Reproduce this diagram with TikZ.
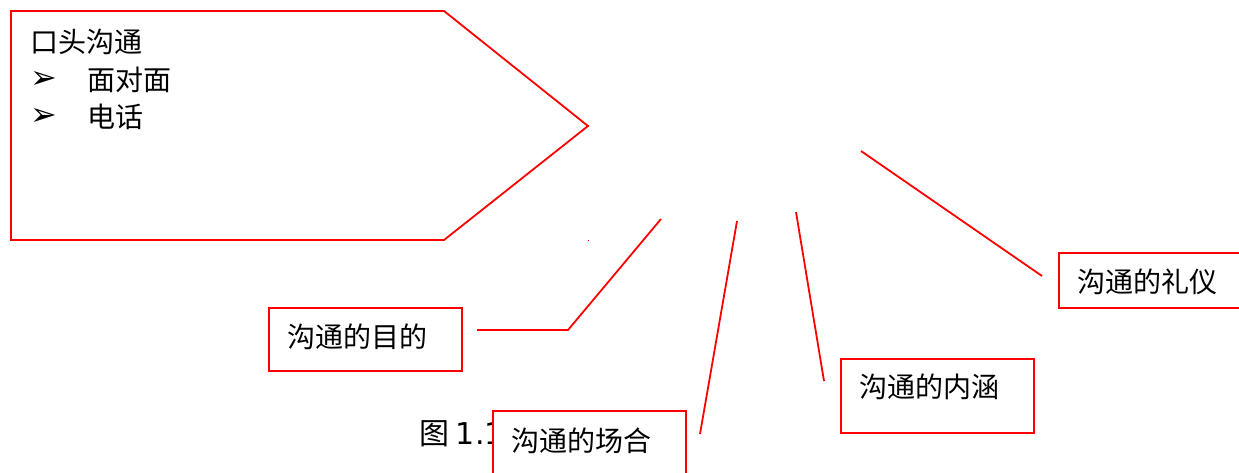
\documentclass[tikz,border=0pt]{standalone}
\usepackage{fontspec}
\setmainfont{Noto Sans CJK SC}
\newfontfamily\symfont{DejaVu Sans}
\begin{document}
\begin{tikzpicture}[x=1pt,y=-1pt,
  redline/.style={draw=red, line width=1.8pt},
  box/.style={redline, fill=white, rectangle, inner sep=0pt, anchor=north west},
  lbl/.style={anchor=west, inner sep=0pt, font=\fontsize{28}{32}\selectfont},
  bul/.style={anchor=west, inner sep=0pt, font=\symfont\fontsize{32}{36}\selectfont}]
\useasboundingbox (0,0) rectangle (1239,472);
\clip (0,0) rectangle (1239,472);
% pentagon
\draw[redline] (11,11) -- (444,11) -- (588,126) -- (444,240) -- (11,240) -- cycle;
\node[lbl] (t0) at (30,42) {口头沟通};
\node[bul] (b1) at (30,80) {➢};
\node[lbl] (t1) at (87,80) {面对面};
\node[bul] (b2) at (30,117) {➢};
\node[lbl] (t2) at (87,117) {电话};
\fill[red] (587.5,239.5) rectangle (589,241);
% caption (partly covered)
\node[lbl, font=\fontsize{30}{34}\selectfont] (cap) at (419,434) {图 {\symfont 1.1}};
% boxes
\node[box, minimum width=193pt, minimum height=63pt] (mudi) at (268,307) {};
\node[lbl] (mudit) at (287,337) {沟通的目的};
\node[box, minimum width=193pt, minimum height=80pt] (changhe) at (492,410) {};
\node[lbl] (changhet) at (511,441) {沟通的场合};
\node[box, minimum width=193pt, minimum height=74pt] (neihan) at (840,358) {};
\node[lbl] (neihant) at (859,387) {沟通的内涵};
\node[box, minimum width=200pt, minimum height=55pt] (liyi) at (1058,252) {};
\node[lbl] (liyit) at (1077,282) {沟通的礼仪};
% connector ends
\coordinate (m1) at (477,330);
\coordinate (m2) at (568,330);
\coordinate (m3) at (661,219);
\coordinate (c1) at (700,434);
\coordinate (c2) at (737,221);
\coordinate (n1) at (824,381);
\coordinate (n2) at (796,212);
\coordinate (l1) at (1042,276);
\coordinate (l2) at (861,151);
\draw[redline] (m1) -- (m2) -- (m3);
\draw[redline] (c1) -- (c2);
\draw[redline] (n1) -- (n2);
\draw[redline] (l1) -- (l2);
\end{tikzpicture}
\end{document}
